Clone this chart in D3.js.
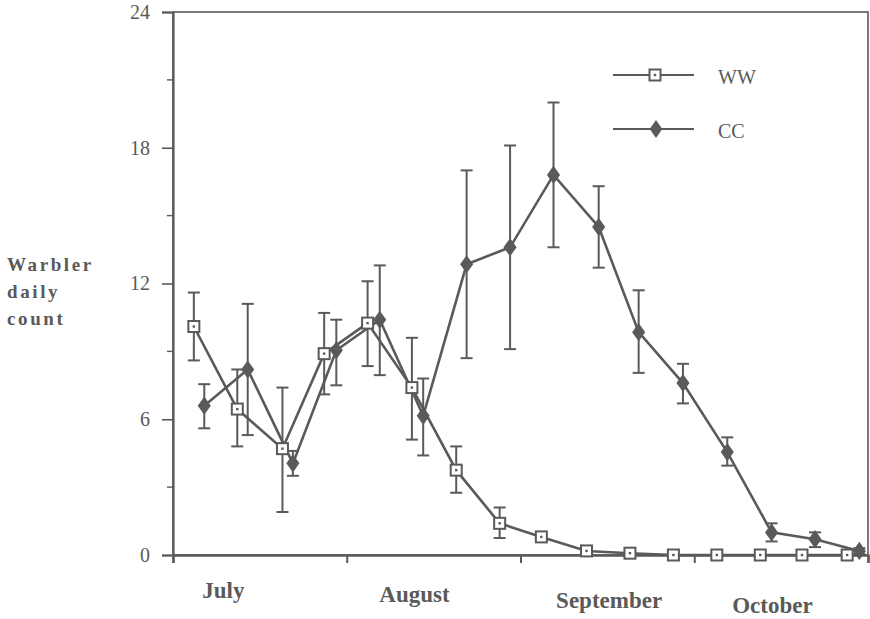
<!DOCTYPE html>
<html>
<head>
<meta charset="utf-8">
<script src="https://cdn.jsdelivr.net/npm/d3@7"></script>
<style>
  body { margin: 0; background: #fff; }
  svg { font-family: "Liberation Serif", "Times New Roman", serif; }
</style>
</head>
<body>
<div id="chart"></div>
<script>
// month labels and month boundaries (x axis in months from 1 July)
const months = ["July", "August", "September", "October"];
const monthLabelPos = [0.29, 1.39, 2.51, 3.45];
const monthTicks = [0, 1, 2, 3, 4];

// sample positions (months from 1 July) for each series
const wwPos = [0.12, 0.37, 0.63, 0.87, 1.12, 1.375, 1.63, 1.88, 2.12, 2.38, 2.63, 2.88, 3.13, 3.38, 3.62, 3.88];
const ccPos = [0.18, 0.43, 0.69, 0.94, 1.19, 1.44, 1.69, 1.94, 2.19, 2.45, 2.68, 2.935, 3.19, 3.445, 3.695, 3.95];

// WW: mean, lower, upper
const wwMean = [10.1, 6.45, 4.7, 8.9, 10.25, 7.4, 3.75, 1.4, 0.8, 0.18, 0.08, 0, 0, 0, 0, 0];
const wwLow  = [8.6, 4.8, 1.9, 7.1, 8.35, 5.1, 2.75, 0.75, 0.8, 0.18, 0.08, 0, 0, 0, 0, 0];
const wwHigh = [11.6, 8.2, 7.4, 10.7, 12.1, 9.6, 4.8, 2.1, 0.8, 0.18, 0.08, 0, 0, 0, 0, 0];

// CC: mean, lower, upper
const ccMean = [6.6, 8.2, 4.05, 9.05, 10.4, 6.15, 12.85, 13.6, 16.8, 14.5, 9.85, 7.6, 4.55, 1.0, 0.7, 0.18];
const ccLow  = [5.6, 5.3, 3.5, 7.5, 7.95, 4.4, 8.7, 9.1, 13.6, 12.7, 8.05, 6.7, 3.95, 0.6, 0.35, 0.05];
const ccHigh = [7.55, 11.1, 4.6, 10.4, 12.8, 7.8, 17.0, 18.1, 20.0, 16.3, 11.7, 8.45, 5.2, 1.4, 1.0, 0.3];

const yTicks = [0, 6, 12, 18, 24];
const yMinor = [3, 9, 15, 21];

const ink = "#5a5a58";
const width = 870, height = 619;
const plotL = 173, plotR = 868, plotT = 12, plotB = 555;

const svg = d3.select("#chart").append("svg")
    .attr("width", width)
    .attr("height", height);

const x = d3.scaleLinear().domain([0, 4]).range([plotL, plotR]);
const y = d3.scaleLinear().domain([0, 24]).range([plotB, plotT]);

// frame
svg.append("rect")
    .attr("x", plotL).attr("y", plotT)
    .attr("width", plotR - plotL).attr("height", plotB - plotT)
    .attr("fill", "none").attr("stroke", ink).attr("stroke-width", 1.6);

// y axis
const yAxis = svg.append("g")
    .attr("transform", `translate(${plotL},0)`)
    .call(d3.axisLeft(y).tickValues(yTicks).tickSize(11).tickPadding(12).tickFormat(d3.format("d")));
yAxis.select(".domain").attr("stroke", ink).attr("stroke-width", 2.2);
yAxis.selectAll(".tick line").attr("stroke", ink).attr("stroke-width", 1.6);
yAxis.selectAll(".tick text")
    .attr("fill", ink)
    .style("font-size", "20px")
    .style("font-family", "Liberation Serif, serif");

svg.append("g").selectAll("line")
    .data(yMinor)
    .join("line")
    .attr("x1", plotL - 6).attr("x2", plotL)
    .attr("y1", d => y(d)).attr("y2", d => y(d))
    .attr("stroke", ink).attr("stroke-width", 1.4);

// x axis
const xAxis = svg.append("g")
    .attr("transform", `translate(0,${plotB})`)
    .call(d3.axisBottom(x).tickValues(monthTicks).tickSize(8).tickFormat(""));
xAxis.select(".domain").attr("stroke", ink).attr("stroke-width", 2.4);
xAxis.selectAll(".tick line").attr("stroke", ink).attr("stroke-width", 2);

// month labels (the scan is slightly tilted, so baselines drift down)
const labelDy = [43, 47, 53, 58];
svg.append("g").selectAll("text")
    .data(months)
    .join("text")
    .attr("x", (d, i) => x(monthLabelPos[i]))
    .attr("y", (d, i) => plotB + labelDy[i])
    .attr("text-anchor", "middle")
    .attr("fill", ink)
    .style("font-weight", "bold")
    .style("font-size", "23px")
    .text(d => d);

// y title
svg.append("text")
    .attr("x", 7).attr("y", 271)
    .attr("fill", ink)
    .style("font-weight", "bold")
    .style("font-size", "19px")
    .style("letter-spacing", "2.6px")
    .selectAll("tspan")
    .data(["Warbler", "daily", "count"])
    .join("tspan")
    .attr("x", 7)
    .attr("dy", (d, i) => i === 0 ? 0 : 27)
    .text(d => d);

function series(pos, mean, low, high) {
    return pos.map((p, i) => ({ p, m: mean[i], lo: low[i], hi: high[i] }));
}
const ww = series(wwPos, wwMean, wwLow, wwHigh);
const cc = series(ccPos, ccMean, ccLow, ccHigh);

const line = d3.line().x(d => x(d.p)).y(d => y(d.m));

function drawErrors(data) {
    const g = svg.append("g").attr("stroke", ink).attr("stroke-width", 2);
    const bars = data.filter(d => d.hi - d.lo > 0.01);
    g.selectAll(".v").data(bars).join("line")
        .attr("x1", d => x(d.p)).attr("x2", d => x(d.p))
        .attr("y1", d => y(d.lo)).attr("y2", d => y(d.hi));
    g.selectAll(".t").data(bars).join("line")
        .attr("x1", d => x(d.p) - 6).attr("x2", d => x(d.p) + 6)
        .attr("y1", d => y(d.hi)).attr("y2", d => y(d.hi));
    g.selectAll(".b").data(bars).join("line")
        .attr("x1", d => x(d.p) - 6).attr("x2", d => x(d.p) + 6)
        .attr("y1", d => y(d.lo)).attr("y2", d => y(d.lo));
}

drawErrors(ww);
drawErrors(cc);

svg.append("path").datum(ww)
    .attr("d", line).attr("fill", "none")
    .attr("stroke", ink).attr("stroke-width", 2.6);
svg.append("path").datum(cc)
    .attr("d", line).attr("fill", "none")
    .attr("stroke", ink).attr("stroke-width", 2.6);

function drawSquare(g, cx, cy) {
    g.append("rect")
        .attr("x", cx - 5.5).attr("y", cy - 5.5)
        .attr("width", 11).attr("height", 11)
        .attr("fill", "#fff").attr("stroke", ink).attr("stroke-width", 2);
    g.append("rect")
        .attr("x", cx - 1.2).attr("y", cy - 1.2)
        .attr("width", 2.4).attr("height", 2.4)
        .attr("fill", ink);
}
const diamond = d3.symbol().type(d3.symbolDiamond).size(95);

const ccMarks = svg.append("g");
cc.forEach(d => {
    ccMarks.append("path")
        .attr("d", diamond)
        .attr("transform", `translate(${x(d.p)},${y(d.m)}) scale(1.25,1)`)
        .attr("fill", ink);
});
const wwMarks = svg.append("g");
ww.forEach(d => drawSquare(wwMarks, x(d.p), y(d.m)));

// legend
const legend = svg.append("g");
const legendRows = [
    { name: "WW", yy: 75, ty: 84 },
    { name: "CC", yy: 129, ty: 138 }
];
legendRows.forEach((r, i) => {
    legend.append("line")
        .attr("x1", 613).attr("x2", 694)
        .attr("y1", r.yy).attr("y2", r.yy)
        .attr("stroke", ink).attr("stroke-width", 2);
    if (i === 0) drawSquare(legend, 655, r.yy);
    else legend.append("path").attr("d", diamond)
        .attr("transform", `translate(656,${r.yy}) scale(1.2,1)`)
        .attr("fill", ink);
    legend.append("text")
        .attr("x", 718).attr("y", r.ty)
        .attr("fill", ink)
        .style("font-size", "20px")
        .text(r.name);
});
</script>
</body>
</html>
